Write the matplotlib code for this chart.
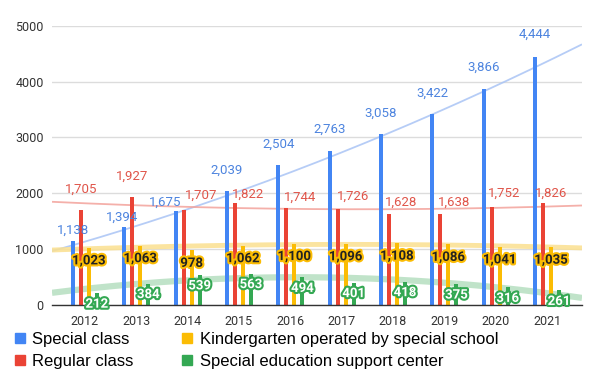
import matplotlib
matplotlib.use("Agg")
import matplotlib.pyplot as plt
import matplotlib.patheffects as pe
from matplotlib.lines import Line2D
import numpy as np

years = ["2012", "2013", "2014", "2015", "2016", "2017", "2018", "2019", "2020", "2021"]
special_class = [1138, 1394, 1675, 2039, 2504, 2763, 3058, 3422, 3866, 4444]
regular_class = [1705, 1927, 1707, 1822, 1744, 1726, 1628, 1638, 1752, 1826]
kindergarten = [1023, 1063, 978, 1062, 1100, 1096, 1108, 1086, 1041, 1035]
support_center = [212, 384, 539, 563, 494, 401, 418, 375, 316, 261]

names = ["Special class", "Regular class",
         "Kindergarten operated by special school", "Special education support center"]
colors = ["#4285f4", "#ea4335", "#fbbc04", "#34a853"]
trend_colors = ["#a9c4f5", "#f3a29b", "#fbe08f", "#b5dfc0"]
trend_widths = [1.3, 1.3, 3.5, 4.5]

# label nudges in pixels (the original chart shifts some to avoid overlaps)
blue_dx = [0, -2, -10, 0, 0, 0, 0, 0, 0, 0]
blue_dy = [11, 10, 9, 21, 21, 21, 21, 21, 22, 22]
red_dx = [0, 0, 18, 13, 14, 15, 12, 14, 12, 8]
red_dy = [21, 21, 14, 9, 10, 12, 12, 11, 14, 10]

plt.rcParams["font.family"] = ["Roboto", "DejaVu Sans"]

fig = plt.figure(figsize=(6, 3.72), dpi=100)
ax = fig.add_axes([0.0867, 0.18, 0.8833, 0.751])

series = [special_class, regular_class, kindergarten, support_center]
x = np.arange(len(years))
xmin, xmax = -0.64, 9.68
w = 0.078
step = 0.156

xs = np.linspace(xmin, xmax, 200)
for s, tc, lw in zip(series, trend_colors, trend_widths):
    p = np.polyfit(x, s, 2)
    ax.plot(xs, np.polyval(p, xs), color=tc, lw=lw, alpha=0.85, zorder=2,
            solid_capstyle="butt")

for i, (s, c) in enumerate(zip(series, colors)):
    ax.bar(x + (i - 1.5) * step, s, width=w, color=c, zorder=3)

for j in range(len(years)):
    xb = x[j] - 1.5 * step
    ax.annotate(f"{special_class[j]:,}", (xb, special_class[j]),
                xytext=(blue_dx[j], blue_dy[j]), textcoords="offset pixels",
                ha="center", va="center", fontsize=9.5, color="#4d84df", zorder=5)
    xr = x[j] - 0.5 * step
    ax.annotate(f"{regular_class[j]:,}", (xr, regular_class[j]),
                xytext=(red_dx[j], red_dy[j]), textcoords="offset pixels",
                ha="center", va="center", fontsize=9.5, color="#e0554a", zorder=5)
    xy = x[j] + 0.5 * step
    ax.annotate(f"{kindergarten[j]:,}", (xy, kindergarten[j]),
                xytext=(0, -13), textcoords="offset pixels",
                ha="center", va="center", fontsize=9.5, fontweight="bold",
                color="#222222", zorder=6,
                path_effects=[pe.withStroke(linewidth=3, foreground=colors[2])])
    xg = x[j] + 1.5 * step
    ax.annotate(f"{support_center[j]:,}", (xg, support_center[j]),
                xytext=(0, -11), textcoords="offset pixels",
                ha="center", va="center", fontsize=9.5, fontweight="bold",
                color="white", zorder=6,
                path_effects=[pe.withStroke(linewidth=3, foreground=colors[3])])

ax.set_xlim(xmin, xmax)
ax.set_ylim(0, 5000)
ax.set_yticks([0, 1000, 2000, 3000, 4000, 5000])
ax.set_xticks(x)
ax.set_xticklabels(years)
ax.tick_params(axis="both", length=0, labelsize=9, colors="#333333")
ax.tick_params(axis="x", pad=7)
ax.tick_params(axis="y", pad=6)
ax.grid(axis="y", color="#dcdcdc", lw=1)
ax.set_axisbelow(True)
for sp in ["top", "right", "left"]:
    ax.spines[sp].set_visible(False)
ax.spines["bottom"].set_color("#333333")
ax.spines["bottom"].set_linewidth(1)
ax.spines["bottom"].set_zorder(4)

handles = [Line2D([], [], marker="s", ls="", color=c, markersize=7.5) for c in colors]
fig.legend(handles, names, loc="upper left", bbox_to_anchor=(0.025, 0.108),
           ncol=2, frameon=False, prop={"family": "Liberation Sans", "size": 12},
           handlelength=0.6, handletextpad=0.45, columnspacing=2.9,
           labelspacing=0.45, borderaxespad=0, borderpad=0)

fig.savefig("out.png", dpi=100)
